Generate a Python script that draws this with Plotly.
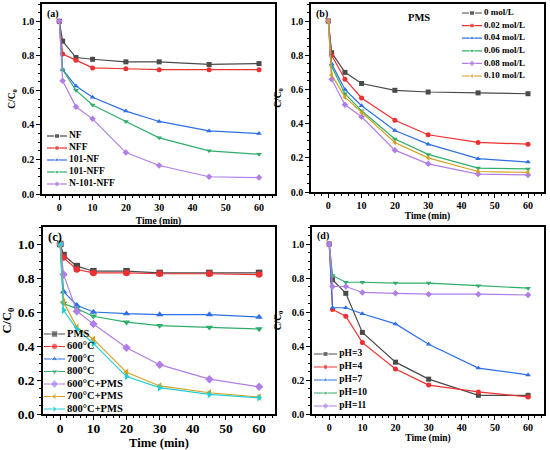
import plotly.graph_objects as go

# sampling times (min), shared by every panel
time_min = [0, 1, 5, 10, 20, 30, 45, 60]

# (a) catalysts
cat_names = ["NF", "NFF", "101-NF", "101-NFF", "N-101-NFF"]
cat_nf = [1.0, 0.885, 0.79, 0.78, 0.765, 0.765, 0.75, 0.755]
cat_nff = [1.0, 0.81, 0.775, 0.73, 0.725, 0.72, 0.72, 0.72]
cat_101nf = [1.0, 0.72, 0.625, 0.56, 0.48, 0.42, 0.365, 0.35]
cat_101nff = [1.0, 0.72, 0.60, 0.515, 0.42, 0.325, 0.25, 0.23]
cat_n101nff = [1.0, 0.655, 0.505, 0.435, 0.24, 0.165, 0.10, 0.095]

# (b) PMS dosage
pms_names = ["0 mol/L", "0.02 mol/L", "0.04 mol/L", "0.06 mol/L", "0.08 mol/L", "0.10 mol/L"]
pms_000 = [1.0, 0.815, 0.70, 0.635, 0.595, 0.585, 0.58, 0.575]
pms_002 = [1.0, 0.80, 0.66, 0.55, 0.42, 0.335, 0.29, 0.28]
pms_004 = [1.0, 0.75, 0.60, 0.505, 0.36, 0.28, 0.195, 0.175]
pms_006 = [1.0, 0.735, 0.575, 0.475, 0.31, 0.22, 0.14, 0.135]
pms_008 = [1.0, 0.66, 0.51, 0.44, 0.245, 0.165, 0.105, 0.10]
pms_010 = [1.0, 0.685, 0.555, 0.465, 0.29, 0.20, 0.12, 0.115]

# (c) calcination temperature
temp_names = ["PMS", "600\u00b0C", "700\u00b0C", "800\u00b0C",
              "600\u00b0C+PMS", "700\u00b0C+PMS", "800\u00b0C+PMS"]
temp_pms = [1.0, 0.935, 0.87, 0.84, 0.84, 0.83, 0.83, 0.83]
temp_600 = [1.0, 0.92, 0.85, 0.83, 0.83, 0.825, 0.825, 0.82]
temp_700 = [1.0, 0.72, 0.64, 0.60, 0.59, 0.585, 0.585, 0.57]
temp_800 = [1.0, 0.65, 0.62, 0.575, 0.54, 0.52, 0.51, 0.50]
temp_600p = [1.0, 0.82, 0.605, 0.53, 0.39, 0.29, 0.205, 0.16]
temp_700p = [1.0, 0.66, 0.51, 0.44, 0.245, 0.165, 0.125, 0.10]
temp_800p = [1.0, 0.61, 0.50, 0.415, 0.22, 0.155, 0.115, 0.095]

# (d) initial pH
ph_names = ["pH=3", "pH=4", "pH=7", "pH=10", "pH=11"]
ph_3 = [1.0, 0.79, 0.71, 0.48, 0.305, 0.205, 0.11, 0.11]
ph_4 = [1.0, 0.615, 0.575, 0.42, 0.265, 0.17, 0.13, 0.10]
ph_7 = [1.0, 0.625, 0.625, 0.59, 0.53, 0.41, 0.27, 0.23]
ph_10 = [1.0, 0.815, 0.775, 0.775, 0.77, 0.77, 0.755, 0.74]
ph_11 = [1.0, 0.75, 0.75, 0.715, 0.71, 0.705, 0.705, 0.70]

colors = ["#4a4a4a", "#f03030", "#2f6fe6", "#2eae6a", "#b07ee6", "#d4a020", "#22cfd6"]
symbols = ["square", "circle", "triangle-up", "triangle-down", "diamond",
           "triangle-left", "triangle-right"]
FONT = "Liberation Serif"
W, H = 550, 450

panels = [
    ("a", cat_names, [cat_nf, cat_nff, cat_101nf, cat_101nff, cat_n101nff]),
    ("b", pms_names, [pms_000, pms_002, pms_004, pms_006, pms_008, pms_010]),
    ("c", temp_names, [temp_pms, temp_600, temp_700, temp_800, temp_600p, temp_700p, temp_800p]),
    ("d", ph_names, [ph_3, ph_4, ph_7, ph_10, ph_11]),
]

# panel boxes in pixels: left, right, top, bottom
boxes = {
    "a": (42, 275, 4, 194),
    "b": (311, 544, 4, 192),
    "c": (43, 275, 227, 414),
    "d": (312, 544, 227, 414),
}
# font sizes per panel: ticks, axis titles, legend, letter
fonts = {
    "a": (10, 9.5, 9.5, 10),
    "b": (10, 9.5, 9, 10),
    "c": (13.5, 12.5, 10.5, 12.5),
    "d": (10, 9.5, 9.5, 10),
}
marker_px = {"a": 5, "b": 5, "c": 6.5, "d": 5}
# legend key boxes in pixels: line start x, line end x, first row y, row pitch
legend_box = {
    "a": (47, 67, 136, 12.0),
    "b": (462, 482, 13, 12.6),
    "c": (44, 65, 334, 12.5),
    "d": (314, 337, 354, 13.0),
}
# title standoff: x, y ; x tick label shift
title_gap = {"a": (6, 4), "b": (2, 7), "c": (1, 8), "d": (2, 8)}
xlabel_shift = {"a": -1, "b": -1, "c": -3, "d": -1}


def px_x(v):
    return v / W


def px_y(v):
    return 1 - v / H


def bold(size):
    return dict(family=FONT, size=size, color="black", weight="bold")


fig = go.Figure()
layout = {}
for i, (tag, names, series) in enumerate(panels):
    n = i + 1
    xa = "x" if n == 1 else f"x{n}"
    ya = "y" if n == 1 else f"y{n}"
    f_tick, f_title, f_leg, _ = fonts[tag]
    msize = marker_px[tag]
    for k, (name, vals) in enumerate(zip(names, series)):
        fig.add_trace(go.Scatter(
            x=time_min, y=vals, mode="lines+markers", name=name,
            xaxis=xa, yaxis=ya, showlegend=False,
            line=dict(color=colors[k], width=1.2),
            marker=dict(symbol=symbols[k], size=msize, color=colors[k]),
        ))
    l, r, t, b = boxes[tag]
    axis_common = dict(
        showline=True, linecolor="black", linewidth=1.5, mirror=True,
        ticks="outside", ticklen=4, tickwidth=1.2, tickcolor="black",
        showgrid=False, zeroline=False, automargin=True,
        tickfont=bold(f_tick),
        minor=dict(ticks="outside", ticklen=2, tickcolor="black", tickwidth=1),
    )
    gx, gy = title_gap[tag]
    layout["xaxis" if n == 1 else f"xaxis{n}"] = dict(
        axis_common, domain=[px_x(l), px_x(r)], anchor=ya,
        range=[-5.2, 64.8], dtick=10, tick0=0, ticklabelstandoff=xlabel_shift[tag],
        title=dict(text="Time (min)", standoff=gx, font=bold(f_title)),
    )
    layout["yaxis" if n == 1 else f"yaxis{n}"] = dict(
        axis_common, domain=[px_y(b), px_y(t)], anchor=xa,
        range=[0, 1.1], dtick=0.2, tickformat=".1f",
        title=dict(text="C/C<sub>0</sub>", standoff=gy, font=bold(f_title)),
    )

    # compact legend keys drawn on a hidden helper axis pair
    m = n + 4
    lx0, lx1, ly0, pitch = legend_box[tag]
    rows = list(range(len(names)))
    span = min(100, W - 2 - lx0)
    layout[f"xaxis{m}"] = dict(
        domain=[px_x(lx0), px_x(lx0 + span)], range=[0, span / (lx1 - lx0)],
        visible=False, anchor=f"y{m}", fixedrange=True,
    )
    layout[f"yaxis{m}"] = dict(
        domain=[px_y(ly0 + (len(names) - 0.5) * pitch), px_y(ly0 - 0.5 * pitch)],
        range=[len(names) - 0.5, -0.5], visible=False, anchor=f"x{m}", fixedrange=True,
    )
    for k in rows:
        fig.add_trace(go.Scatter(
            x=[0, 0.5, 1], y=[k, k, k], mode="lines+markers",
            xaxis=f"x{m}", yaxis=f"y{m}", showlegend=False, hoverinfo="skip",
            line=dict(color=colors[k], width=1.2),
            marker=dict(symbol=symbols[k], size=[0, msize, 0], color=colors[k]),
        ))
    fig.add_trace(go.Scatter(
        x=[1.1] * len(names), y=rows, mode="text", text=names,
        textposition="middle right", cliponaxis=False,
        xaxis=f"x{m}", yaxis=f"y{m}", showlegend=False, hoverinfo="skip",
        textfont=bold(f_leg),
    ))

fig.update_layout(**layout)
fig.update_layout(
    width=W, height=H, margin=dict(l=0, r=0, t=0, b=0, autoexpand=False),
    plot_bgcolor="rgba(0,0,0,0)", paper_bgcolor="white", showlegend=False,
)

# panel letters
letter_pos = {"a": (45, 6), "b": (314, 6), "c": (46, 228), "d": (315, 228)}
for tag, (lpx, lpy) in letter_pos.items():
    fig.add_annotation(
        x=px_x(lpx), y=px_y(lpy), xref="paper", yref="paper",
        xanchor="left", yanchor="top", showarrow=False, text=f"({tag})",
        font=bold(fonts[tag][3]),
    )
fig.add_annotation(
    x=px_x(432), y=px_y(10), xref="paper", yref="paper",
    xanchor="right", yanchor="top", showarrow=False, text="PMS",
    font=bold(10.5),
)

# drop the default page margin so the figure sits at the window's corner
fig.write_html("out.html", config={"displayModeBar": False},
               post_script="document.body.style.margin='0';")
